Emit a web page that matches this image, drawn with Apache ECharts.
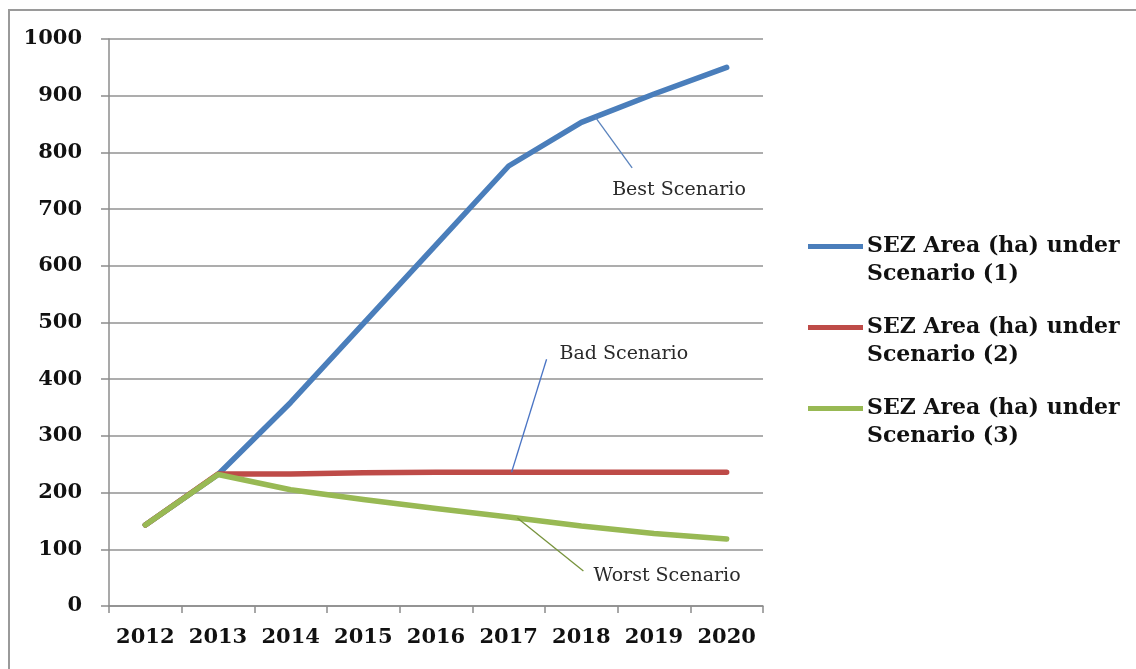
<!DOCTYPE html>
<html>
<head>
<meta charset="utf-8">
<script src="https://cdn.jsdelivr.net/npm/echarts@6/dist/echarts.min.js"></script>
<style>
  html, body { margin: 0; padding: 0; background: #fff; overflow: hidden; width: 1136px; height: 669px; }
  #chart { position: absolute; left: 0; top: 0; width: 1136px; height: 669px; }
  /* chart frame: only its top and left edges are inside the view */
  #frame { position: absolute; left: 8px; top: 9px; width: 1200px; height: 700px;
           border-top: 2px solid #9a9a9a; border-left: 2px solid #9a9a9a; pointer-events: none; }
</style>
</head>
<body>
<div id="chart"></div>
<div id="frame"></div>
<script>
// SEZ area (ha) projections, 2012-2020
const years = ['2012', '2013', '2014', '2015', '2016', '2017', '2018', '2019', '2020'];
const scenario1 = [143, 232, 359, 498, 637, 776, 853, 903, 950];
const scenario2 = [143, 233, 233, 235, 236, 236, 236, 236, 236];
const scenario3 = [143, 232, 205, 188, 172, 157, 141, 128, 118];
const seriesNames = [
  'SEZ Area (ha) under\nScenario (1)',
  'SEZ Area (ha) under\nScenario (2)',
  'SEZ Area (ha) under\nScenario (3)'
];
const yTicks = { min: 0, max: 1000, interval: 100 };

const colors = ['#4a7ebb', '#be4b48', '#98b954'];
const serifBold = { fontFamily: 'DejaVu Serif', fontWeight: 'bold', color: '#111' };

// legend swatch: short thick bar near the top of a tall box so it lines up with the first text line
const swatch = 'path://M0,0L0.01,0L0.01,0.01L0,0.01Z M0,12L55,12L55,17L0,17Z M0,56L0.01,56L0.01,55.99L0,55.99Z';

const chart = echarts.init(document.getElementById('chart'), null, { renderer: 'canvas' });

function lineSeries(name, data, color) {
  return {
    name: name,
    type: 'line',
    data: data,
    symbol: 'none',
    smooth: false,
    lineStyle: { width: 5.5, color: color, cap: 'round', join: 'round' },
    itemStyle: { color: color },
    emphasis: { disabled: true },
    animation: false
  };
}

chart.setOption({
  animation: false,
  backgroundColor: '#fff',
  grid: { left: 109, right: 373, top: 39, bottom: 63, containLabel: false },
  legend: {
    orient: 'vertical',
    left: 803,
    top: 227,
    itemWidth: 55,
    itemHeight: 56,
    itemGap: 25,
    icon: swatch,
    selectedMode: false,
    textStyle: Object.assign({ fontSize: 22, lineHeight: 28, padding: [0, 0, 0, -1] }, serifBold),
    data: seriesNames.map((n, i) => ({ name: n, itemStyle: { color: colors[i] } }))
  },
  xAxis: {
    type: 'category',
    data: years,
    boundaryGap: true,
    axisLine: { show: true, lineStyle: { color: '#8c8c8c', width: 1.5 } },
    axisTick: { show: true, interval: 0, length: 7, lineStyle: { color: '#8c8c8c', width: 1.5 } },
    axisLabel: Object.assign({ fontSize: 21, margin: 21, interval: 0, hideOverlap: false }, serifBold),
    splitLine: { show: false }
  },
  yAxis: {
    type: 'value',
    min: yTicks.min,
    max: yTicks.max,
    interval: yTicks.interval,
    axisLine: { show: true, lineStyle: { color: '#8c8c8c', width: 1.5 } },
    axisTick: { show: true, length: 8, lineStyle: { color: '#8c8c8c', width: 1.5 } },
    axisLabel: Object.assign({ fontSize: 21, margin: 27, formatter: v => String(v) }, serifBold),
    splitLine: { show: true, lineStyle: { color: '#929292', width: 1.5 } }
  },
  series: [
    lineSeries(seriesNames[0], scenario1, colors[0]),
    lineSeries(seriesNames[1], scenario2, colors[1]),
    lineSeries(seriesNames[2], scenario3, colors[2])
  ]
});

// point on a series at a fractional category position
function pointOn(data, pos) {
  const i = Math.floor(pos);
  const t = pos - i;
  const a = chart.convertToPixel({ xAxisIndex: 0, yAxisIndex: 0 }, [i, data[i]]);
  const b = chart.convertToPixel({ xAxisIndex: 0, yAxisIndex: 0 }, [i + 1, data[i + 1]]);
  return [a[0] + (b[0] - a[0]) * t, a[1] + (b[1] - a[1]) * t];
}

// callouts: anchor on the line, leader end offset, text offset from the leader end
const callouts = [
  { text: 'Best Scenario', data: scenario1, pos: 6.19, lead: [37, 51], label: [-20, 22], color: '#5a83bd' },
  { text: 'Bad Scenario', data: scenario2, pos: 5.04, lead: [35, -113], label: [13, -5], color: '#4a74c4' },
  { text: 'Worst Scenario', data: scenario3, pos: 5.12, lead: [66, 53], label: [10, 5], color: '#77933c' }
];

const graphics = [];

callouts.forEach(c => {
  const p = pointOn(c.data, c.pos);
  const e = [p[0] + c.lead[0], p[1] + c.lead[1]];
  graphics.push({
    type: 'line',
    shape: { x1: p[0], y1: p[1], x2: e[0], y2: e[1] },
    style: { stroke: c.color, lineWidth: 1.3 },
    silent: true,
    z: 10
  });
  graphics.push({
    type: 'text',
    x: e[0] + c.label[0],
    y: e[1] + c.label[1],
    style: {
      text: c.text,
      font: 'normal 19px "DejaVu Serif"',
      fill: '#2a2a2a',
      textAlign: 'left',
      textVerticalAlign: 'middle'
    },
    silent: true,
    z: 10
  });
});

chart.setOption({ graphic: graphics });
</script>
</body>
</html>
